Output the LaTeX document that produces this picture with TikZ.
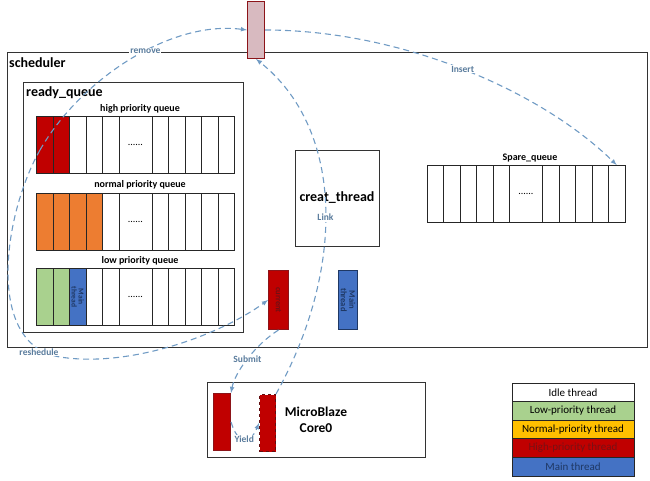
\documentclass[tikz,border=0pt]{standalone}
\usepackage{fontspec}
\setmainfont{Carlito}
\usetikzlibrary{positioning}

\definecolor{hired}{RGB}{192,0,0}
\definecolor{normorange}{RGB}{237,125,49}
\definecolor{lowgreen}{RGB}{169,209,142}
\definecolor{mainblue}{RGB}{68,114,196}
\definecolor{normyellow}{RGB}{255,192,0}
\definecolor{flowblue}{RGB}{112,155,196}
\definecolor{pinkbox}{RGB}{216,186,192}
\definecolor{darkred}{RGB}{140,20,25}
\definecolor{navy}{RGB}{31,56,100}

\begin{document}
\begin{tikzpicture}[x=1pt, y=-1pt, >=latex,
  box/.style={draw=black!80, line width=1pt, anchor=north west, inner sep=0pt},
  cell/.style={draw=black!85, line width=0.8pt, anchor=north west, inner sep=0pt, minimum width=16.5, minimum height=57},
  widecell/.style={cell, minimum width=33, font=\fontsize{10}{11}\selectfont},
  title/.style={font=\fontsize{14}{16}\selectfont\bfseries, anchor=west, inner sep=0pt},
  qlabel/.style={font=\fontsize{10}{12}\selectfont\bfseries, inner sep=0pt},
  vtext/.style={font=\fontsize{8.5}{8.5}\selectfont\bfseries, rotate=-90, align=center, inner sep=0pt},
  flow/.style={draw=flowblue, line width=1.1pt, dash pattern=on 6pt off 4pt, ->},
  lbl/.style={font=\fontsize{9.5}{11}\selectfont\bfseries, text=flowblue!80!black, inner sep=1pt},
  legend/.style={draw=black!85, line width=0.9pt, minimum width=122, minimum height=18.6, inner sep=0pt, outer sep=0pt, font=\fontsize{11}{12}\selectfont}
]
\useasboundingbox (0,0) rectangle (650,481);

% scheduler
\node[box, minimum width=640, minimum height=295] (sched) at (7,52) {};
\node[title] (schedt) at (9,63) {scheduler};

% ready queue
\node[box, minimum width=220, minimum height=250] (ready) at (23,82) {};
\node[title] (readyt) at (26,93) {ready\_queue};

\node[qlabel] (hql) at (140,109) {high priority queue};
\foreach \n/\c in {1/hired,2/hired,3/white,4/white,5/white,7/white,8/white,9/white,10/white,11/white}{
  \pgfmathsetmacro{\x}{36+16.5*(\n-1)+16.5*(\n>6)}
  \node[cell, fill=\c] (h\n) at (\x,116) {};
}
\node[widecell] (h6) at (118.5,116) {......};

\node[qlabel] (nql) at (140,185) {normal priority queue};
\foreach \n/\c in {1/normorange,2/normorange,3/normorange,4/normorange,5/white,7/white,8/white,9/white,10/white,11/white}{
  \pgfmathsetmacro{\x}{36+16.5*(\n-1)+16.5*(\n>6)}
  \node[cell, fill=\c] (n\n) at (\x,193) {};
}
\node[widecell] (n6) at (118.5,193) {......};

\node[qlabel] (lql) at (140,261) {low priority queue};
\foreach \n/\c in {1/lowgreen,2/lowgreen,3/mainblue,4/white,5/white,7/white,8/white,9/white,10/white,11/white}{
  \pgfmathsetmacro{\x}{36+16.5*(\n-1)+16.5*(\n>6)}
  \node[cell, fill=\c] (l\n) at (\x,268) {};
}
\node[widecell] (l6) at (118.5,268) {......};
\node[vtext, text=navy, font=\fontsize{7.5}{7}\selectfont\bfseries] (l3t) at (l3) {Main\\thread};

% creat_thread
\node[box, minimum width=84, minimum height=96] (creat) at (295,150) {};
\node[font=\fontsize{14}{16}\selectfont\bfseries] (creatt) at (337,198) {creat\_thread};

% spare queue
\node[qlabel] (sql) at (530,158) {Spare\_queue};
\foreach \n in {1,2,3,4,5,7,8,9,10,11}{
  \pgfmathsetmacro{\x}{426.5+16.5*(\n-1)+16.5*(\n>6)}
  \node[cell] (s\n) at (\x,165) {};
}
\node[widecell] (s6) at (509,165) {......};

% current and main thread
\node[box, draw=darkred, fill=hired, minimum width=20, minimum height=59] (cur) at (268,270) {};
\node[vtext, text=darkred!80!black] (curt) at (cur) {current};
\node[box, draw=navy, fill=mainblue, minimum width=19, minimum height=59] (mainth) at (338,270) {};
\node[vtext, text=navy] (maint) at (mainth) {Main\\thread};

% pink box
\node[box, draw=darkred, fill=pinkbox, minimum width=17, minimum height=57] (pink) at (247,1) {};

% MicroBlaze
\node[box, minimum width=218, minimum height=75] (core) at (207,382) {};
\node[box, draw=darkred, fill=hired, minimum width=17, minimum height=57] (mb1) at (213,393) {};
\node[box, draw=darkred!70!black, dashed, fill=hired, minimum width=16, minimum height=57] (mb2) at (259,394) {};
\node[font=\fontsize{13.5}{16.5}\selectfont\bfseries, align=center] (coret) at (316,420) {MicroBlaze\\Core0};

% legend
\node[legend, fill=white, anchor=north west] (lg1) at (512,383) {Idle thread};
\node[legend, fill=lowgreen, below=0pt of lg1] (lg2) {Low-priority thread};
\node[legend, fill=normyellow, below=0pt of lg2] (lg3) {Normal-priority thread};
\node[legend, fill=hired, text=darkred!85!black, below=0pt of lg3] (lg4) {High-priority thread};
\node[legend, fill=mainblue, text=navy, below=0pt of lg4] (lg5) {Main thread};

% flows
\coordinate (split) at (40,150);
\draw[flow] (split) .. controls (80,80) and (170,20) .. (pink.west)
  node[lbl, pos=0.57, fill=white] {remove};
\draw[flow] (split) .. controls (3,215) and (-15,345) .. (60,357)
  .. controls (130,368) and (220,335) .. (cur.west);
\node[lbl, fill=white] (resh) at (39,352) {reshedule};
\draw[flow] (pink.east) .. controls (400,30) and (540,90) .. (s11.north)
  node[lbl, pos=0.5, fill=white] {Insert};
\draw[flow] (mb2.north east) .. controls (345,270) and (345,130) .. (pink.south)
  node[lbl, pos=0.47, fill=white] {Link};
\draw[flow] (cur.south) .. controls (255,345) and (235,372) .. (mb1.north east)
  node[lbl, pos=0.5, fill=white] {Submit};
\draw[flow] (mb1.east) .. controls (238,445) and (250,445) .. (mb2.west)
  node[lbl, pos=0.5, fill=white] {Yield};
\end{tikzpicture}
\end{document}
